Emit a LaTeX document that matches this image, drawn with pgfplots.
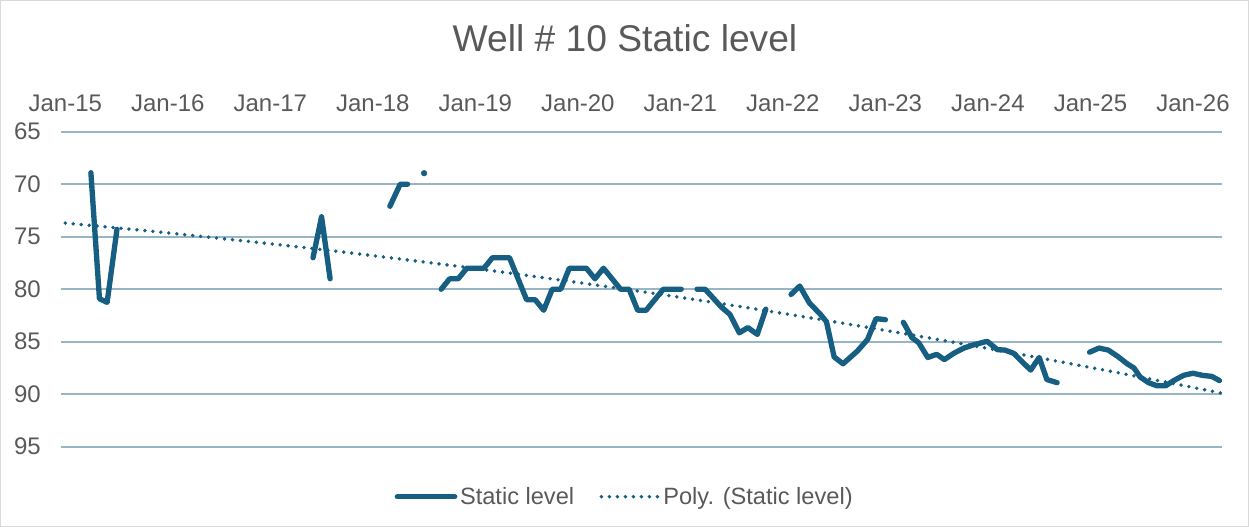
\documentclass[border=0pt]{standalone}
\usepackage{pgfplots}
\pgfplotsset{compat=1.18}
\usepackage{fontspec}
\setmainfont{Liberation Sans}
\definecolor{lc}{RGB}{22,94,130}
\definecolor{gc}{RGB}{152,181,198}
\definecolor{tc}{RGB}{89,89,89}
\begin{document}
\begin{tikzpicture}
\path[use as bounding box] (0,0) rectangle (936.75pt,395.25pt);
\draw[line width=1pt, draw=black!15] (0.5pt,0.5pt) rectangle (936.25pt,394.75pt);
\node[anchor=base, text=tc, inner sep=0pt, font=\fontsize{27.9}{30}\selectfont] at (468.75pt,356.25pt) {Well \# 10 Static level};
\begin{axis}[
  at={(45.75pt,60.2pt)}, anchor=south west,
  scale only axis, width=870.75pt, height=236.25pt,
  xmin=-0.5, xmax=135.4, ymin=65, ymax=95, y dir=reverse,
  xtick={0,12,...,132},
  xticklabels={Jan-15,Jan-16,Jan-17,Jan-18,Jan-19,Jan-20,Jan-21,Jan-22,Jan-23,Jan-24,Jan-25,Jan-26},
  ytick={65,70,...,95},
  xticklabel pos=upper,
  axis line style={draw=none},
  major tick length=0pt,
  ymajorgrids, grid style={gc, line width=1.6pt},
  /pgf/number format/assume math mode=true,
  tick label style={text=tc, font=\fontsize{18}{20}\selectfont},
  xticklabel style={anchor=base, inner sep=0pt, yshift=15pt},
  yticklabel style={anchor=east, inner sep=0pt, xshift=-15pt},
  unbounded coords=jump,
  clip=false,
  legend style={at={(0.4858,-0.1587)}, anchor=center, draw=none, fill=none,
    font=\fontsize{17.7}{20}\selectfont, text=tc, legend columns=2,
    /tikz/every even column/.append style={column sep=17pt},
    inner sep=0pt},
  legend cell align=left,
  legend image code/.code={\draw[#1] (0pt,0pt) -- (43pt,0pt);},
]
\addplot[lc, line width=4pt, line cap=round, line join=round] coordinates {
(3,68.9) (4,80.9) (4.9,81.25) (6.05,74.3)
(6.5,nan)
(29,77) (30,73.1) (31,79)
(32,nan)
(38,72.1) (39.2,70) (40.07,70)
(41,nan)
(44,80) (45,79) (46,79) (47,78) (49,78) (50,77) (52,77) (54,81) (55,81) (56,82) (57,80) (58,80) (59,78) (61,78) (62,79) (63,78) (65,80) (66,80) (67,82) (68,82) (70,80) (72.1,80)
(73,nan)
(73.95,80) (74.9,80) (76.8,81.7) (77.8,82.4) (78.9,84.15) (79.9,83.65) (81,84.3) (82,81.9)
(83,nan)
(84.95,80.5) (85.97,79.7) (87.1,81.3) (88.4,82.4) (89.1,83.1) (90,86.45) (91.04,87.1) (92.7,85.9) (93.9,84.8) (94.9,82.8) (96,82.9)
(97,nan)
(98.1,83.15) (99.1,84.6) (99.9,85.1) (100.96,86.5) (102,86.2) (102.9,86.7) (104,86.1) (105.2,85.6) (106.3,85.3) (107.9,84.96) (109.1,85.75) (110,85.8) (111,86.1) (112,86.9) (113,87.7) (114,86.5) (114.9,88.6) (116.1,88.9)
(118,nan)
(119.9,86.0) (121,85.6) (122.1,85.8) (123.2,86.4) (124.3,87.1) (125.1,87.5) (125.8,88.35) (126.8,88.9) (127.8,89.2) (128.8,89.2) (129.75,88.7) (130.9,88.2) (132,88.0) (133.1,88.2) (134.2,88.3) (135.1,88.7)
};
\addlegendentry{Static level}
\addplot[lc, line width=2.9pt, line cap=round, dash pattern=on 0pt off 6pt, smooth] coordinates {
(0,73.70) (10,74.47) (20,75.32) (30,76.22) (40,77.20) (50,78.24) (60,79.36) (70,80.53) (80,81.78) (90,83.10) (100,84.48) (110,85.93) (120,87.45) (130,89.03) (135.4,89.91)
};
\addlegendentry{Poly. (Static level)}
\addplot[only marks, mark=*, mark size=2.1pt, color=lc, forget plot] coordinates {(42,68.95)};
\end{axis}
\end{tikzpicture}
\end{document}
